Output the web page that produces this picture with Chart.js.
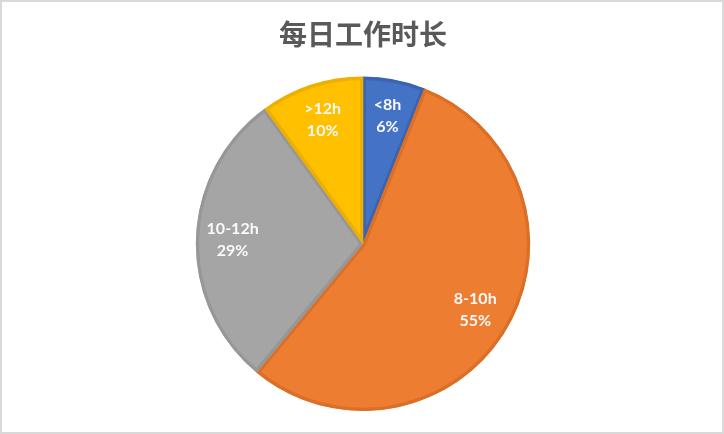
<!DOCTYPE html>
<html>
<head>
<meta charset="utf-8">
<script src="https://cdn.jsdelivr.net/npm/chart.js@4"></script>
<style>
  html, body { margin: 0; padding: 0; background: #fff; }
  #wrap { position: relative; width: 724px; height: 434px; }
  #frame { position: absolute; left: 0; top: 0; width: 720px; height: 430px; border: 2px solid #d9d9d9; pointer-events: none; }
</style>
</head>
<body>
<div id="wrap">
  <canvas id="c" width="724" height="434"></canvas>
  <div id="frame"></div>
</div>
<script>
const titleText = '每日工作时长';
const categories = ['<8h', '8-10h', '10-12h', '>12h'];
const values = [6, 55, 29, 10];
const fillColors = ['#4472C4', '#ED7D31', '#A5A5A5', '#FFC000'];
const edgeColors = ['#3A64B0', '#DB6F27', '#979797', '#EDB000'];

const labelPlugin = {
  id: 'sliceLabels',
  afterDatasetsDraw(chart) {
    const ctx = chart.ctx;
    const meta = chart.getDatasetMeta(0);
    const total = values.reduce((a, b) => a + b, 0);
    ctx.save();
    ctx.fillStyle = '#fafafa';
    ctx.font = 'bold 16px Lato, "Liberation Sans", sans-serif';
    ctx.textAlign = 'center';
    ctx.textBaseline = 'middle';
    meta.data.forEach((arc, i) => {
      const p = arc.getProps(['x', 'y', 'startAngle', 'endAngle', 'outerRadius']);
      const mid = (p.startAngle + p.endAngle) / 2;
      const r = p.outerRadius * 0.78;
      const x = p.x + Math.cos(mid) * r;
      const y = p.y + Math.sin(mid) * r;
      const pct = Math.round(values[i] / total * 100) + '%';
      ctx.fillText(categories[i], x, y - 11);
      ctx.fillText(pct, x, y + 11);
    });
    ctx.restore();
  }
};

new Chart(document.getElementById('c'), {
  type: 'pie',
  data: {
    labels: categories,
    datasets: [{
      data: values,
      backgroundColor: fillColors,
      borderColor: edgeColors,
      borderWidth: 3,
      borderAlign: 'inner'
    }]
  },
  options: {
    responsive: false,
    animation: false,
    layout: { padding: { left: 2, right: 0, top: 0, bottom: 23 } },
    plugins: {
      legend: { display: false },
      tooltip: { enabled: false },
      title: {
        display: true,
        text: titleText,
        color: '#595959',
        font: { family: '"Noto Sans CJK SC", sans-serif', size: 28, weight: 'bold', lineHeight: 1.2 },
        padding: { top: 18, bottom: 25 }
      }
    }
  },
  plugins: [labelPlugin]
});
</script>
</body>
</html>
